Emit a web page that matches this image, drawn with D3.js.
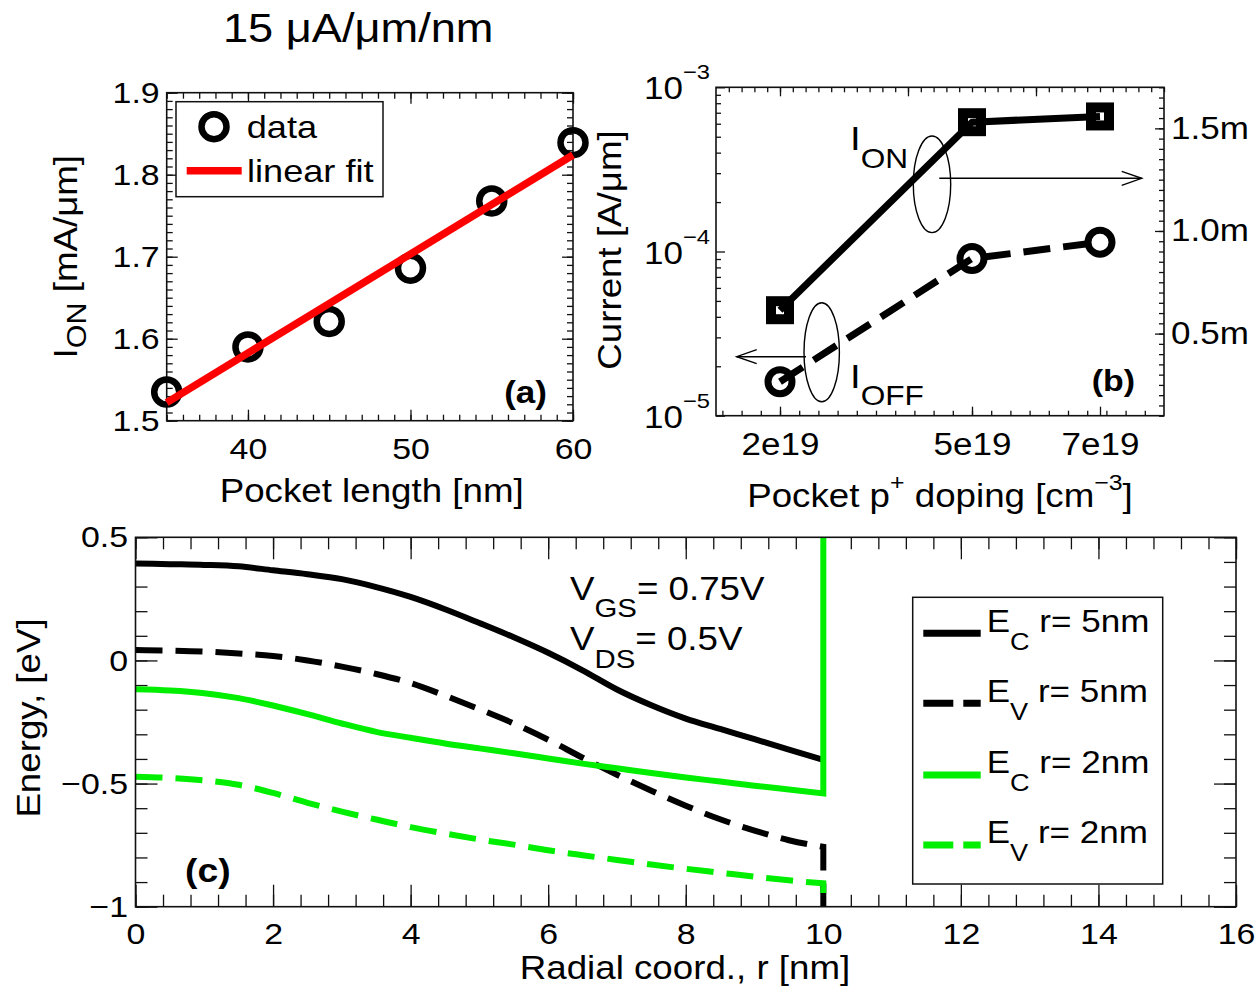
<!DOCTYPE html>
<html><head><meta charset="utf-8">
<script src="https://cdn.jsdelivr.net/npm/d3@7"></script>
<style>
html,body{margin:0;padding:0;background:#fff;}
svg{display:block;}
text{font-family:'Liberation Sans',Arial,Helvetica,sans-serif;fill:#000;white-space:pre;}
</style>
</head><body>
<svg id="chart" width="1256" height="997"></svg>
<script>
// ---------------- DATA ----------------
// Panel (a)
const pocketLength = [35, 40, 45, 50, 55, 60];
const ionA = [1.535, 1.590, 1.621, 1.686, 1.768, 1.839];
const fitLength = [35, 60];
const fitIon = [1.522, 1.824];
const aXTicks = [40, 50, 60];
const aYTicks = [1.5, 1.6, 1.7, 1.8, 1.9];

// Panel (b)
const doping = [2e19, 5e19, 7e19];
const dopingLabels = ["2e19", "5e19", "7e19"];
const ionB = [0.614e-3, 1.530e-3, 1.558e-3];   // right axis (linear)
const ioffB = [1.61e-5, 9.06e-5, 1.14e-4];      // left axis (log)
const bLeftTicks = [1e-5, 1e-4, 1e-3];
const bLeftExp = ["\u22125", "\u22124", "\u22123"];
const bRightTicks = [0.5e-3, 1.0e-3, 1.5e-3];
const bRightLabels = ["0.5m", "1.0m", "1.5m"];
const bTopTicks = [2e19, 4e19, 6e19];

// Panel (c)
const radial = [0,0.5,1,1.5,2,2.5,3,3.5,4,4.5,5,5.5,6,6.5,7,7.5,8,8.5,9,9.5,10];
const ecR5 = [0.394,0.391,0.388,0.382,0.366,0.350,0.330,0.298,0.258,0.208,0.152,0.094,0.031,-0.040,-0.118,-0.182,-0.236,-0.278,-0.320,-0.362,-0.404];
const evR5 = [0.042,0.040,0.036,0.028,0.018,0.000,-0.025,-0.055,-0.092,-0.143,-0.198,-0.256,-0.322,-0.395,-0.464,-0.529,-0.590,-0.645,-0.691,-0.730,-0.757];
const ecR2 = [-0.117,-0.122,-0.133,-0.153,-0.183,-0.218,-0.256,-0.290,-0.314,-0.337,-0.357,-0.377,-0.398,-0.419,-0.438,-0.457,-0.475,-0.492,-0.509,-0.524,-0.540];
const evR2 = [-0.472,-0.477,-0.487,-0.505,-0.538,-0.578,-0.614,-0.646,-0.677,-0.703,-0.727,-0.748,-0.771,-0.791,-0.810,-0.829,-0.846,-0.862,-0.878,-0.893,-0.905];
const edgeR = 10;
const ecR2Edge = 0.5, evR5Edge = -1, evR2Edge = -1;
const cXTicks = [0,2,4,6,8,10,12,14,16];
const cYTicks = [-1,-0.5,0,0.5];
const cSeries = [
  {name:"E", sub:"C", rest:" r= 5nm"},
  {name:"E", sub:"V", rest:" r= 5nm"},
  {name:"E", sub:"C", rest:" r= 2nm"},
  {name:"E", sub:"V", rest:" r= 2nm"}
];

// ---------------- HELPERS ----------------
const svg = d3.select('#chart');
const SX = 1.13;
const GREEN = '#00ee00';
const plainFmt = d3.format('');

function stretchLabels(sel){
  sel.selectAll('text').each(function(){
    const x = +this.getAttribute('x') || 0;
    this.setAttribute('x', x / SX);
    this.setAttribute('transform', 'scale(' + SX + ',1)');
  });
}

function rich(g, x, y, parts, o = {}) {
  const size = o.size || 32, sub = o.sub || Math.round(size * 0.8);
  const t = g.append('text')
    .attr('transform', `translate(${x},${y}) rotate(${o.rotate || 0}) scale(${SX},1)`)
    .attr('text-anchor', o.anchor || 'start')
    .style('font-size', size + 'px');
  if (o.weight) t.style('font-weight', o.weight);
  let cur = 0;
  parts.forEach(p => {
    const [str, kind] = Array.isArray(p) ? p : [p, null];
    const off = kind === 'sub' ? (o.subShift || size * 0.5) : kind === 'sup' ? -(o.supShift || size * 0.5) : 0;
    t.append('tspan').attr('dy', off - cur).style('font-size', (kind ? sub : size) + 'px').text(str);
    cur = off;
  });
  return t;
}

function ticks(g, axisFn, scale, vals, size, transform, labels) {
  const ax = axisFn(scale).tickValues(vals).tickSize(-size).tickSizeOuter(0);
  if (!labels) ax.tickFormat('');
  else { ax.tickPadding(labels.pad); ax.tickFormat(labels.format || plainFmt); }
  const a = g.append('g').attr('transform', transform).call(ax);
  a.attr('font-family', null).attr('font-size', null);
  a.select('.domain').remove();
  a.selectAll('line').attr('stroke', '#111').attr('stroke-width', 1.3);
  a.selectAll('text').style('font-size', ((labels && labels.size) || 30) + 'px').attr('fill', '#000');
  if (labels) stretchLabels(a);
  return a;
}

function frame(g, x0, y0, x1, y1) {
  g.append('rect').attr('x', x0).attr('y', y0).attr('width', x1 - x0).attr('height', y1 - y0)
    .attr('fill', 'none').attr('stroke', '#111').attr('stroke-width', 1.6);
}

// ---------------- TITLE ----------------
rich(svg, 223, 42, ["15 \u03bcA/\u03bcm/nm"], {size: 40});

// ---------------- PANEL (a) ----------------
{
  const g = svg.append('g');
  const X0 = 166.7, X1 = 573, Y0 = 92.7, Y1 = 420.7;
  const x = d3.scaleLinear().domain([35, 60]).range([X0, X1]);
  const y = d3.scaleLinear().domain([1.5, 1.9]).range([Y1, Y0]);
  const xMinor = d3.range(35, 61, 1);
  const yMinor = d3.range(150, 191, 1).map(v => v / 100);

  ticks(g, d3.axisBottom, x, xMinor, 6, `translate(0,${Y1})`);
  ticks(g, d3.axisBottom, x, aXTicks, 11, `translate(0,${Y1})`, {pad: 17, size: 30});
  ticks(g, d3.axisTop, x, xMinor, 6, `translate(0,${Y0})`);
  ticks(g, d3.axisTop, x, aXTicks, 11, `translate(0,${Y0})`);
  ticks(g, d3.axisLeft, y, yMinor, 6, `translate(${X0},0)`);
  ticks(g, d3.axisLeft, y, aYTicks, 11, `translate(${X0},0)`, {pad: 7, size: 30});
  ticks(g, d3.axisRight, y, yMinor, 6, `translate(${X1},0)`);
  ticks(g, d3.axisRight, y, aYTicks, 11, `translate(${X1},0)`);
  frame(g, X0, Y0, X1, Y1);

  g.selectAll('circle.pt').data(ionA).join('circle').attr('class', 'pt')
    .attr('cx', (d, i) => x(pocketLength[i])).attr('cy', d => y(d)).attr('r', 12.5)
    .attr('fill', 'none').attr('stroke', '#000').attr('stroke-width', 6.5);

  const fitLine = d3.line().x((d, i) => x(fitLength[i])).y(d => y(d));
  g.append('path').attr('d', fitLine(fitIon)).attr('fill', 'none')
    .attr('stroke', '#ff0000').attr('stroke-width', 7.5);

  // legend
  g.append('rect').attr('x', 176).attr('y', 101.7).attr('width', 207).attr('height', 95)
    .attr('fill', '#fff').attr('stroke', '#111').attr('stroke-width', 1.5);
  g.append('circle').attr('cx', 214).attr('cy', 126.7).attr('r', 12.5)
    .attr('fill', 'none').attr('stroke', '#000').attr('stroke-width', 6.5);
  rich(g, 246.7, 138.3, ["data"], {size: 32});
  g.append('line').attr('x1', 186.7).attr('x2', 241.7).attr('y1', 170.7).attr('y2', 170.7)
    .attr('stroke', '#ff0000').attr('stroke-width', 7.5);
  rich(g, 247, 181.7, ["linear fit"], {size: 32});

  rich(g, 547, 403, ["(a)"], {size: 31, anchor: 'end', weight: 'bold'});
  rich(g, 371.7, 502, ["Pocket length [nm]"], {size: 32.5, anchor: 'middle'});
  rich(g, 77, 256.7, ["I", ["ON", 'sub'], " [mA/\u03bcm]"], {size: 32.5, sub: 27, subShift: 9, anchor: 'middle', rotate: -90});
}

// ---------------- PANEL (b) ----------------
{
  const g = svg.append('g');
  const X0 = 716, X1 = 1164, Y0 = 87.3, Y1 = 415.7;
  const x = d3.scaleLinear().domain([1e19, 8e19]).range([X0, X1]);
  const yL = d3.scaleLog().domain([1e-5, 1e-3]).range([Y1, Y0]);
  const yR = d3.scaleLinear().domain([0.1e-3, 1.7e-3]).range([Y1, Y0]);
  const xMinorBottom = d3.range(11, 78, 3).map(v => v * 1e18);
  const xMinorTop = d3.range(12, 81, 2).map(v => v * 1e18);
  const logMinor = [2,3,4,5,6,7,8,9].flatMap(m => [m * 1e-5, m * 1e-4]);
  const rMinor = d3.range(2, 35, 1).map(v => v * 0.05e-3);

  ticks(g, d3.axisBottom, x, xMinorBottom, 5, `translate(0,${Y1})`);
  ticks(g, d3.axisBottom, x, doping, 9, `translate(0,${Y1})`, {pad: 17, size: 31, format: (d, i) => dopingLabels[i]});
  ticks(g, d3.axisTop, x, xMinorTop, 5, `translate(0,${Y0})`);
  ticks(g, d3.axisTop, x, bTopTicks, 9, `translate(0,${Y0})`);
  ticks(g, d3.axisLeft, yL, logMinor, 5, `translate(${X0},0)`);
  const la = ticks(g, d3.axisLeft, yL, bLeftTicks, 9, `translate(${X0},0)`);
  la.selectAll('.tick').each(function(d, i) {
    rich(d3.select(this), -6, 11.5, ["10", [bLeftExp[i], 'sup']], {size: 31, sub: 21, supShift: 20, anchor: 'end'});
  });
  ticks(g, d3.axisRight, yR, rMinor, 5, `translate(${X1},0)`);
  ticks(g, d3.axisRight, yR, bRightTicks, 9, `translate(${X1},0)`, {pad: 7, size: 31, format: (d, i) => bRightLabels[i]});
  frame(g, X0, Y0, X1, Y1);

  const onLine = d3.line().x((d, i) => x(doping[i])).y(d => yR(d));
  const offLine = d3.line().x((d, i) => x(doping[i])).y(d => yL(d));
  g.append('path').attr('d', onLine(ionB)).attr('fill', 'none').attr('stroke', '#000')
    .attr('stroke-width', 7).attr('stroke-linejoin', 'round');
  g.append('path').attr('d', offLine(ioffB)).attr('fill', 'none').attr('stroke', '#000')
    .attr('stroke-width', 7).attr('stroke-dasharray', '27,13');

  g.selectAll('rect.sq').data(ionB).join('rect').attr('class', 'sq')
    .attr('x', (d, i) => x(doping[i]) - 9).attr('y', d => yR(d) - 9)
    .attr('width', 18).attr('height', 18)
    .attr('fill', 'none').attr('stroke', '#000').attr('stroke-width', 10);
  g.selectAll('circle.off').data(ioffB).join('circle').attr('class', 'off')
    .attr('cx', (d, i) => x(doping[i])).attr('cy', d => yL(d)).attr('r', 12)
    .attr('fill', 'none').attr('stroke', '#000').attr('stroke-width', 7);

  // annotations
  const thin = s => s.attr('fill', 'none').attr('stroke', '#000').attr('stroke-width', 1.4);
  thin(g.append('ellipse').attr('cx', 932).attr('cy', 184.3).attr('rx', 18.7).attr('ry', 48.3));
  thin(g.append('line').attr('x1', 939.3).attr('y1', 178.3).attr('x2', 1141.7).attr('y2', 178.3));
  thin(g.append('path').attr('d', 'M1121.7,171.3 L1141.7,178.3 L1121.7,185.3'));
  thin(g.append('ellipse').attr('cx', 821.7).attr('cy', 352.2).attr('rx', 17.7).attr('ry', 49.5));
  thin(g.append('line').attr('x1', 806).attr('y1', 356.7).attr('x2', 736.7).attr('y2', 356.7));
  thin(g.append('path').attr('d', 'M756.7,349.7 L736.7,356.7 L756.7,363.7'));

  rich(g, 850, 150, ["I", ["ON", 'sub']], {size: 34, sub: 28, subShift: 18});
  rich(g, 850, 388, ["I", ["OFF", 'sub']], {size: 34, sub: 28, subShift: 17});
  rich(g, 1135, 391, ["(b)"], {size: 30, anchor: 'end', weight: 'bold'});

  rich(g, 940, 506.7, ["Pocket p", ["+", 'sup'], " doping [cm", ["\u22123", 'sup'], "]"], {size: 32.5, sub: 22, supShift: 17, anchor: 'middle'});
  rich(g, 621, 250, ["Current [A/\u03bcm]"], {size: 32.5, anchor: 'middle', rotate: -90});
}

// ---------------- PANEL (c) ----------------
{
  const g = svg.append('g');
  const X0 = 135.5, X1 = 1236, Y0 = 537.3, Y1 = 906.7;
  const x = d3.scaleLinear().domain([0, 16]).range([X0, X1]);
  const y = d3.scaleLinear().domain([-1, 0.5]).range([Y1, Y0]);
  const xMinor = d3.range(0, 41, 1).map(v => v * 0.4);
  const yMinor = d3.range(-10, 6, 1).map(v => v / 10);

  ticks(g, d3.axisBottom, x, xMinor, 12, `translate(0,${Y1})`);
  ticks(g, d3.axisBottom, x, cXTicks, 22, `translate(0,${Y1})`, {pad: 16, size: 30});
  ticks(g, d3.axisTop, x, xMinor, 12, `translate(0,${Y0})`);
  ticks(g, d3.axisTop, x, cXTicks, 22, `translate(0,${Y0})`);
  ticks(g, d3.axisLeft, y, yMinor, 12, `translate(${X0},0)`);
  ticks(g, d3.axisLeft, y, cYTicks, 22, `translate(${X0},0)`, {pad: 7.5, size: 30});
  ticks(g, d3.axisRight, y, yMinor, 12, `translate(${X1},0)`);
  ticks(g, d3.axisRight, y, cYTicks, 22, `translate(${X1},0)`);

  svg.append('defs').append('clipPath').attr('id', 'clipC')
    .append('rect').attr('x', X0).attr('y', Y0).attr('width', X1 - X0).attr('height', Y1 - Y0);
  const plot = g.append('g').attr('clip-path', 'url(#clipC)');
  const line = d3.line().x(d => x(d[0])).y(d => y(d[1])).curve(d3.curveMonotoneX);
  const pathFor = (arr, edge) => {
    let d = line(arr.map((v, i) => [radial[i], v]));
    if (edge !== undefined) d += `L${x(edgeR)},${y(edge)}`;
    return d;
  };
  const W = 6;
  plot.append('path').attr('d', pathFor(ecR5)).attr('fill', 'none').attr('stroke', '#000').attr('stroke-width', W);
  plot.append('path').attr('d', pathFor(evR5, evR5Edge)).attr('fill', 'none').attr('stroke', '#000').attr('stroke-width', W).attr('stroke-dasharray', '27,13');
  plot.append('path').attr('d', pathFor(ecR2, ecR2Edge)).attr('fill', 'none').attr('stroke', GREEN).attr('stroke-width', W);
  plot.append('path').attr('d', pathFor(evR2, evR2Edge)).attr('fill', 'none').attr('stroke', GREEN).attr('stroke-width', W).attr('stroke-dasharray', '27,13');
  frame(g, X0, Y0, X1, Y1);

  // annotation
  rich(g, 570, 600, ["V", ["GS", 'sub'], "= 0.75V"], {size: 32.5, sub: 26, subShift: 17});
  rich(g, 570, 650, ["V", ["DS", 'sub'], "= 0.5V"], {size: 32.5, sub: 26, subShift: 18});
  rich(g, 185, 882, ["(c)"], {size: 33, weight: 'bold'});

  // legend
  g.append('rect').attr('x', 912.7).attr('y', 597.3).attr('width', 250).attr('height', 286.7)
    .attr('fill', '#fff').attr('stroke', '#111').attr('stroke-width', 1.5);
  const rows = [633.3, 703.3, 775, 845];
  const styles = [['#000', null], ['#000', '30,10'], [GREEN, null], [GREEN, '30,10']];
  cSeries.forEach((s, i) => {
    const ln = g.append('line').attr('x1', 923.3).attr('x2', 980.7).attr('y1', rows[i]).attr('y2', rows[i])
      .attr('stroke', styles[i][0]).attr('stroke-width', 7);
    if (styles[i][1]) ln.attr('stroke-dasharray', styles[i][1]);
    rich(g, 986.7, rows[i] - 1.6, [s.name, [s.sub, 'sub'], s.rest], {size: 31, sub: 24, subShift: 18});
  });

  rich(g, 685, 979, ["Radial coord., r [nm]"], {size: 32.5, anchor: 'middle'});
  rich(g, 40, 718, ["Energy, [eV]"], {size: 32.5, anchor: 'middle', rotate: -90});
}
</script>
</body></html>
